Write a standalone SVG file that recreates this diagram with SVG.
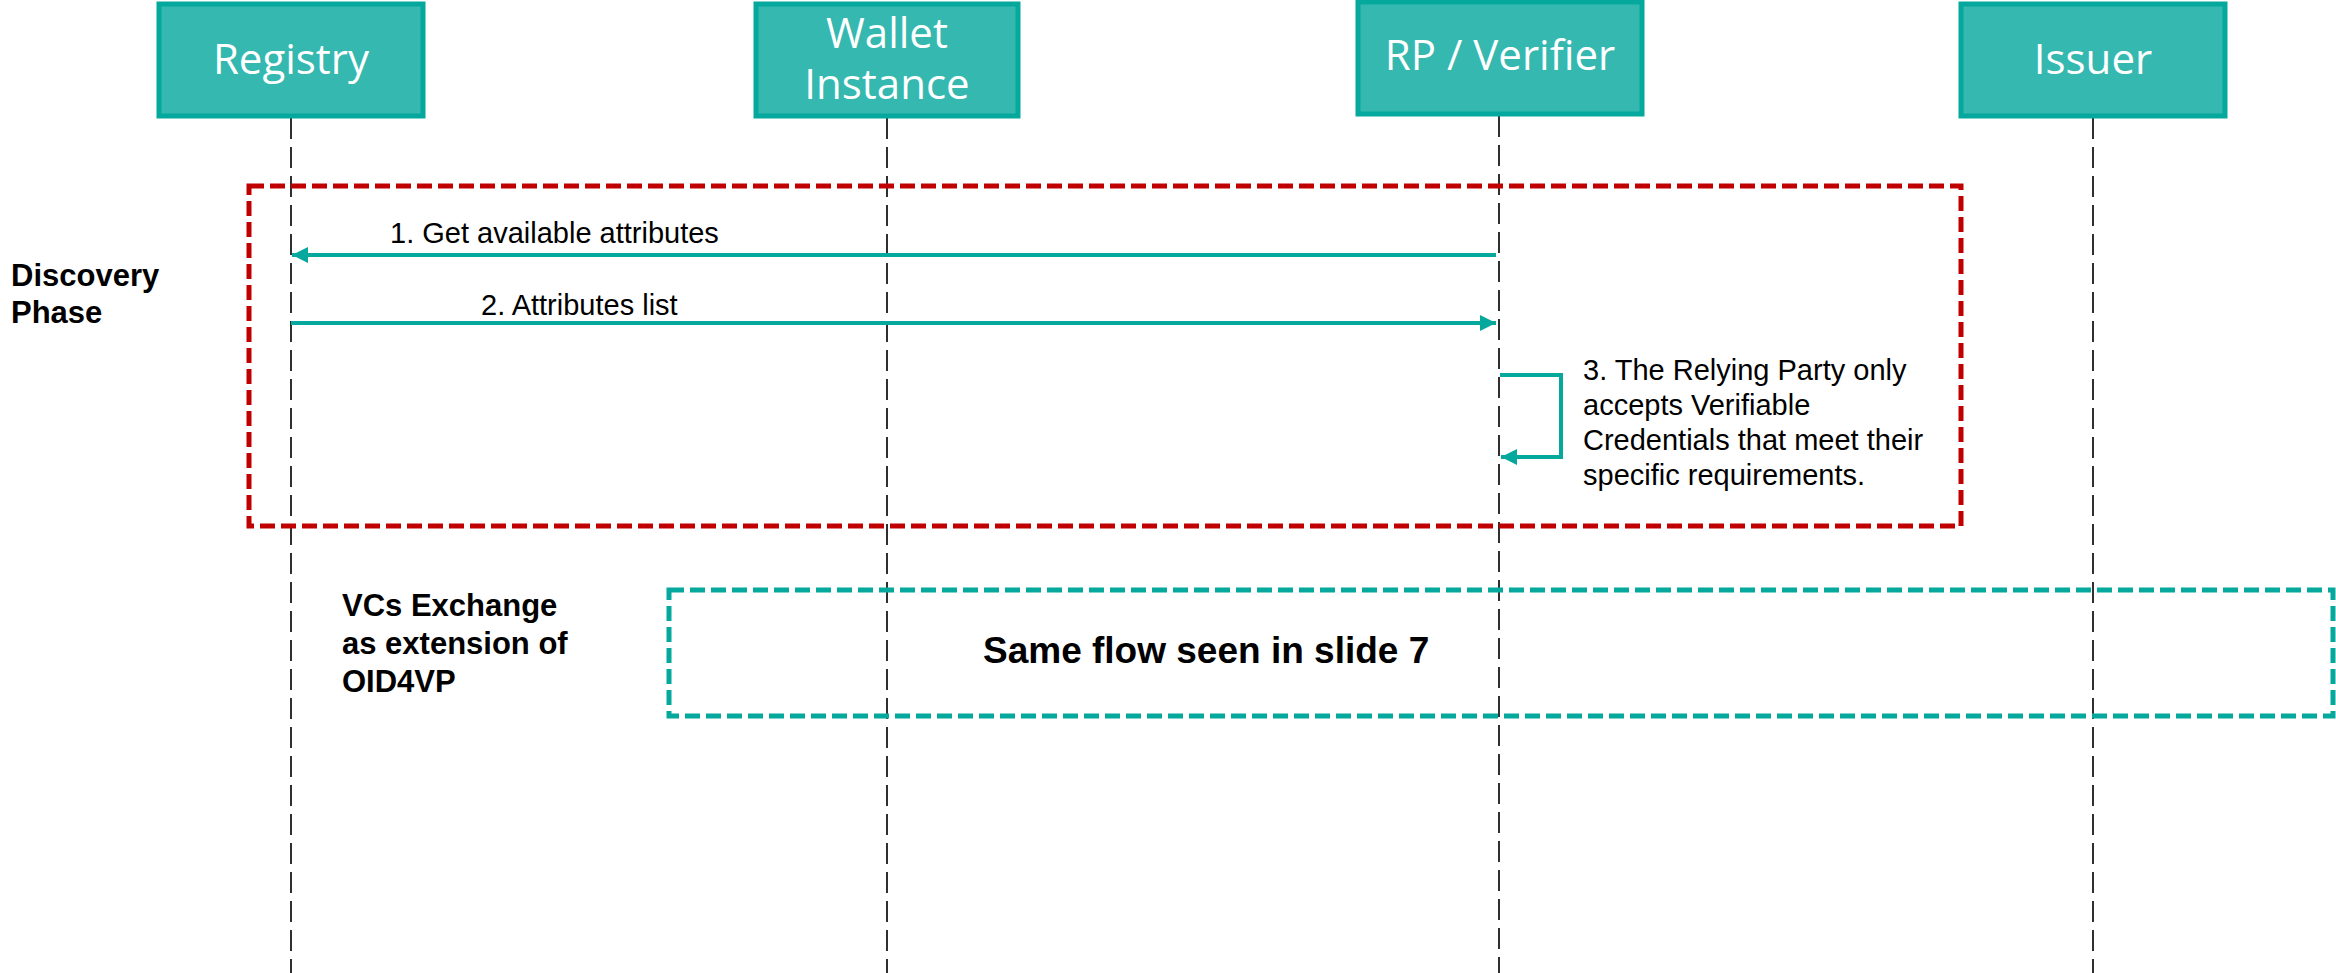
<svg xmlns="http://www.w3.org/2000/svg" width="2336" height="973" viewBox="0 0 2336 973">
<style>
.box{fill:#34b8b0;stroke:#04a89d;stroke-width:5}
.btxt{font-family:"Open Sans","Noto Sans",sans-serif;font-size:42px;fill:#ffffff;text-anchor:middle}
.life{stroke:#1a1a1a;stroke-width:1.8;stroke-dasharray:21 8;fill:none}
.msg{stroke:#04a89d;stroke-width:4;fill:none}
.lbl{font-family:"Liberation Sans",Arial,sans-serif;font-size:29px;fill:#000}
.bold{font-family:"Liberation Sans",Arial,sans-serif;font-weight:bold;font-size:31px;fill:#000}
</style>
<defs>
<marker id="ah" markerUnits="userSpaceOnUse" markerWidth="16" markerHeight="16" refX="16" refY="8" orient="auto">
<path d="M0,0 L16,8 L0,16 z" fill="#04a89d"/>
</marker>
</defs>
<rect width="2336" height="973" fill="#ffffff"/>
<g id="lifelines">
<line class="life" x1="291" y1="118" x2="291" y2="973"/>
<line class="life" x1="887" y1="118" x2="887" y2="973"/>
<line class="life" x1="1499" y1="116" x2="1499" y2="973"/>
<line class="life" x1="2093" y1="118" x2="2093" y2="973"/>
</g>
<g id="registry">
<rect class="box" x="159" y="4" width="264" height="112"/>
<text class="btxt" x="291" y="74">Registry</text>
</g>
<g id="wallet">
<rect class="box" x="756" y="4" width="262" height="112"/>
<text class="btxt" x="887" y="48">Wallet</text>
<text class="btxt" x="887" y="99">Instance</text>
</g>
<g id="verifier">
<rect class="box" x="1358" y="2" width="284" height="112"/>
<text class="btxt" x="1500" y="70">RP / Verifier</text>
</g>
<g id="issuer">
<rect class="box" x="1961" y="4" width="264" height="112"/>
<text class="btxt" x="2093" y="74">Issuer</text>
</g>
<g id="discovery-frame">
<rect x="249" y="186" width="1712" height="340" fill="none" stroke="#c00000" stroke-width="5" stroke-dasharray="15 6"/>
<text class="bold" x="11" y="286">Discovery</text>
<text class="bold" x="11" y="323">Phase</text>
</g>
<g id="vc-exchange">
<rect x="669" y="590" width="1664" height="126" fill="none" stroke="#04a89d" stroke-width="5" stroke-dasharray="15 6"/>
<text class="bold" x="342" y="616">VCs Exchange</text>
<text class="bold" x="342" y="654">as extension of</text>
<text class="bold" x="342" y="692">OID4VP</text>
<text class="bold" x="983" y="663" style="font-size:37px">Same flow seen in slide 7</text>
</g>
<g id="connectors">
<line class="msg" x1="1496" y1="255" x2="292" y2="255" marker-end="url(#ah)"/>
<text class="lbl" x="390" y="243">1. Get available attributes</text>
<line class="msg" x1="291" y1="323" x2="1496" y2="323" marker-end="url(#ah)"/>
<text class="lbl" x="481" y="315">2. Attributes list</text>
<path class="msg" d="M1500,375 H1561 V457 H1501" marker-end="url(#ah)"/>
<text class="lbl" x="1583" y="380">3. The Relying Party only</text>
<text class="lbl" x="1583" y="415">accepts Verifiable</text>
<text class="lbl" x="1583" y="450">Credentials that meet their</text>
<text class="lbl" x="1583" y="485">specific requirements.</text>
</g>
</svg>
